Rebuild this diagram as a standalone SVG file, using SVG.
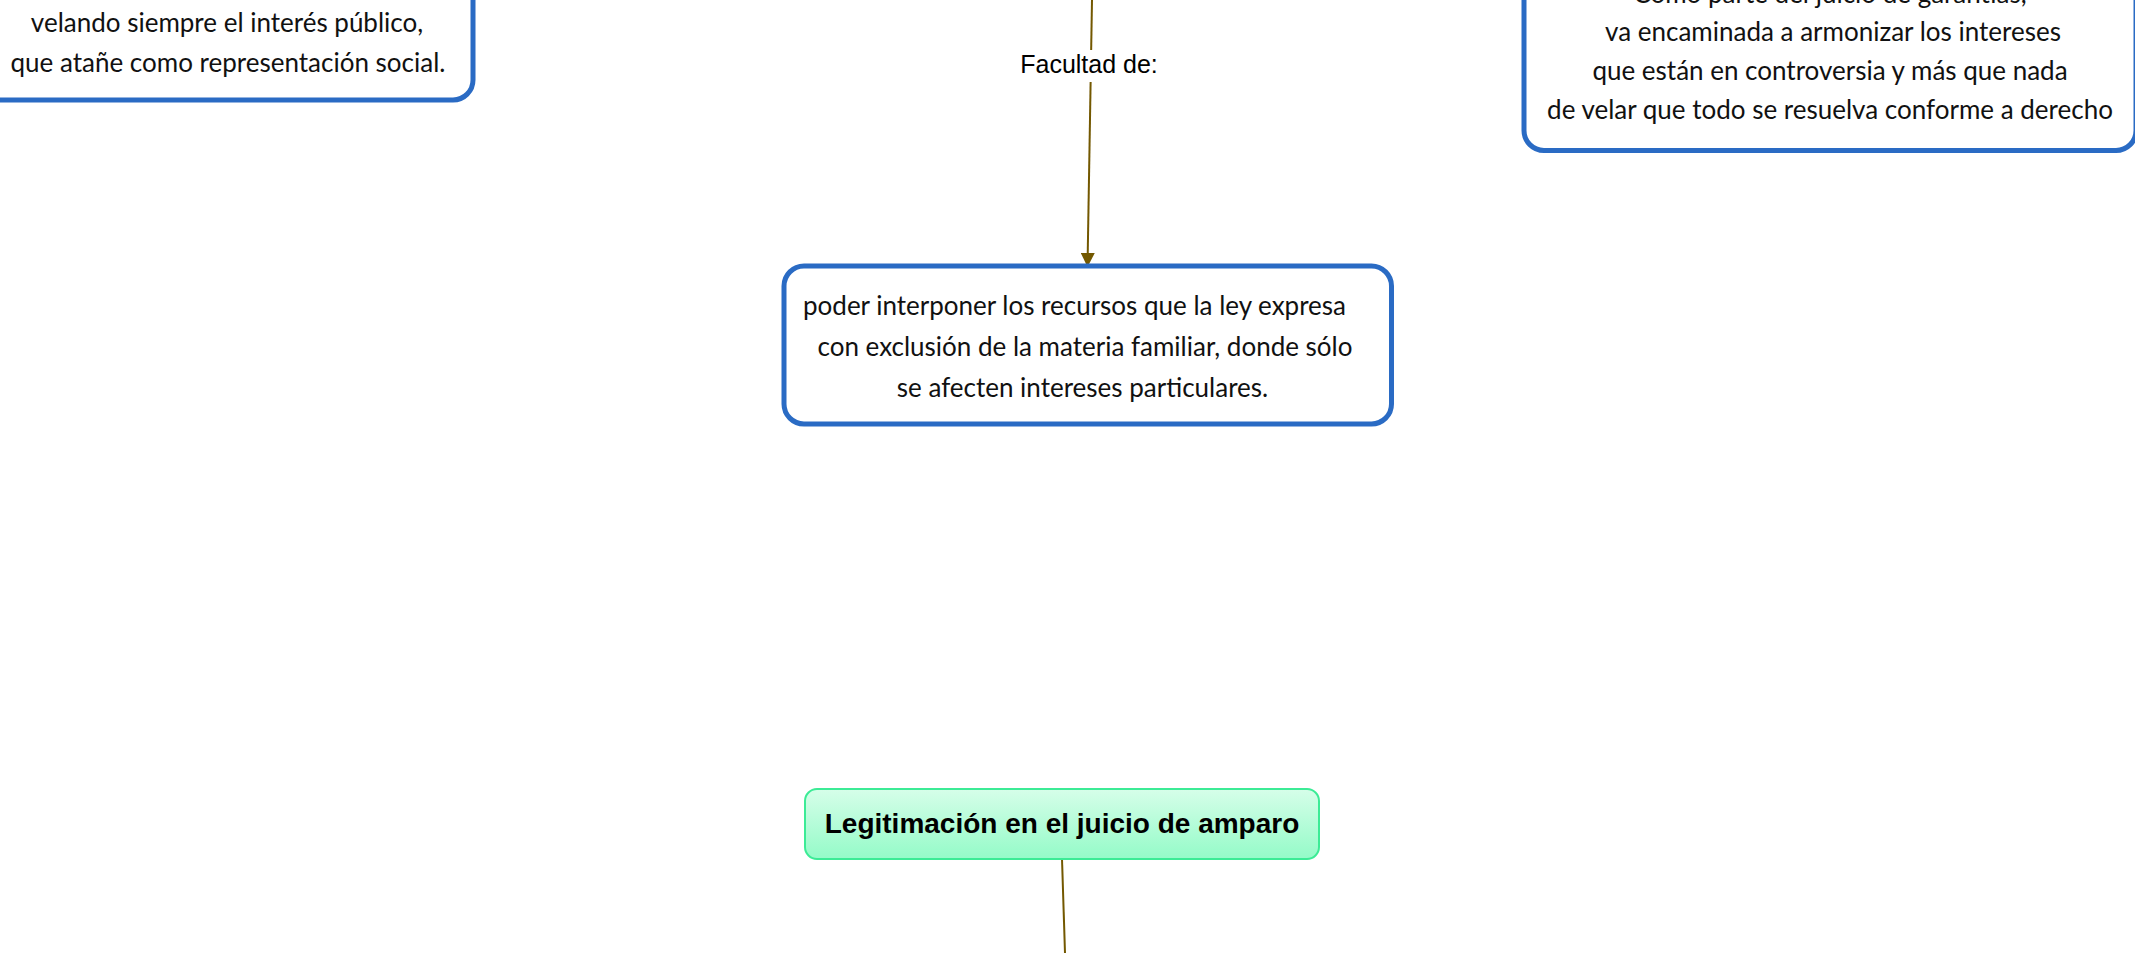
<svg xmlns="http://www.w3.org/2000/svg" width="2135" height="953" viewBox="0 0 2135 953">
<defs>
<style>
.box{fill:#ffffff;stroke:#2a6bc4;stroke-width:5}
.t{font-family:Lato,"Open Sans",sans-serif;font-size:26px;fill:#111111;text-anchor:middle}
.conn{stroke:#735800;stroke-width:2;fill:none}
.lbl{font-family:"Liberation Sans",Arial,sans-serif;font-size:25px;fill:#000000;text-anchor:middle}
.main{font-family:"Liberation Sans",Arial,sans-serif;font-size:28px;font-weight:bold;fill:#000000;text-anchor:middle}
</style>
<linearGradient id="g" x1="0" y1="0" x2="0" y2="1">
<stop offset="0" stop-color="#d6fee9"/>
<stop offset="1" stop-color="#94fbc8"/>
</linearGradient>
<marker id="arr" viewBox="0 0 14 14" refX="14" refY="7" markerWidth="14" markerHeight="14" markerUnits="userSpaceOnUse" orient="auto">
<path d="M0,0 L14,7 L0,14 Z" fill="#735800"/>
</marker>
</defs>
<rect width="2135" height="953" fill="#ffffff"/>
<g id="connectors">
<line class="conn" x1="1092" y1="0" x2="1087.5" y2="267" marker-end="url(#arr)"/>
<rect x="1020" y="50" width="138" height="32" fill="#ffffff"/>
<text class="lbl" x="1089" y="73">Facultad de:</text>
<line class="conn" x1="1062" y1="859" x2="1065" y2="953"/>
</g>
<g id="node-left">
<rect class="box" x="-20" y="-30" width="493" height="130" rx="20"/>
<text class="t" x="227" y="32">velando siempre el interés público,</text>
<text class="t" x="228" y="72">que atañe como representación social.</text>
</g>
<g id="node-right">
<rect class="box" x="1524" y="-40" width="612" height="190.5" rx="20"/>
<text class="t" x="1830" y="3">Como parte del juicio de garantías,</text>
<text class="t" x="1833" y="41">va encaminada a armonizar los intereses</text>
<text class="t" x="1830" y="80">que están en controversia y más que nada</text>
<text class="t" x="1830" y="119">de velar que todo se resuelva conforme a derecho</text>
</g>
<g id="node-center">
<rect class="box" x="784" y="266" width="607.5" height="158" rx="20"/>
<text class="t" x="1074.5" y="315">poder interponer los recursos que la ley expresa</text>
<text class="t" x="1085" y="356">con exclusión de la materia familiar, donde sólo</text>
<text class="t" x="1082.5" y="397">se afecten intereses particulares.</text>
</g>
<g id="node-main">
<rect x="805" y="789" width="514" height="70" rx="12" fill="url(#g)" stroke="#3ceb96" stroke-width="2"/>
<text class="main" x="1062" y="833">Legitimación en el juicio de amparo</text>
</g>
</svg>
